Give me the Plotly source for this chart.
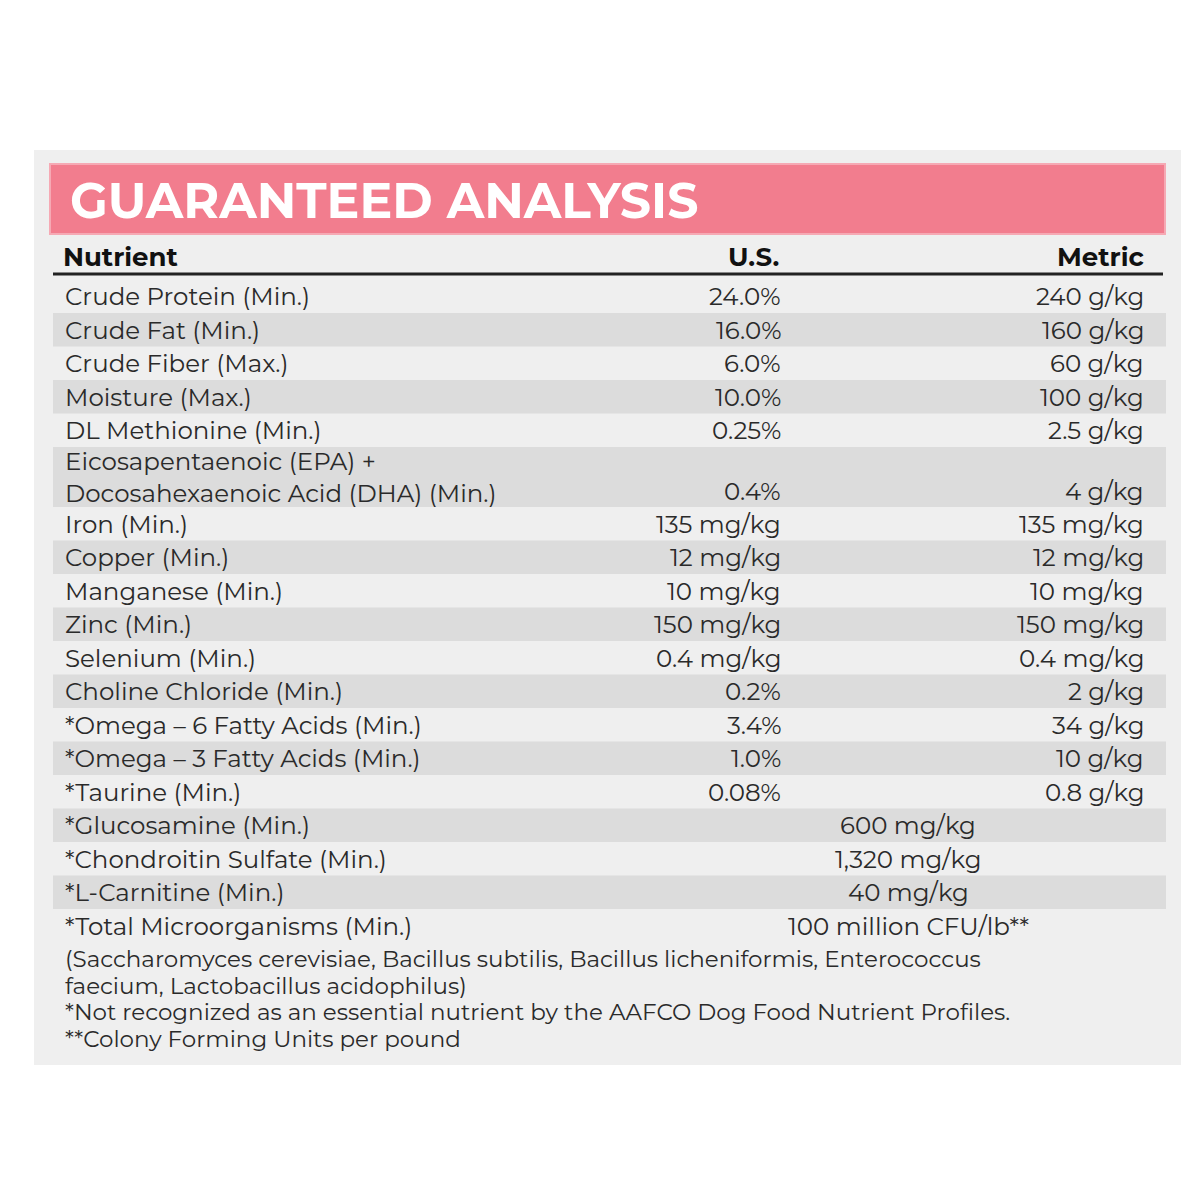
import plotly.graph_objects as go

nutrients = ["Crude Protein (Min.)", "Crude Fat (Min.)", "Crude Fiber (Max.)", "Moisture (Max.)",
             "DL Methionine (Min.)", "Eicosapentaenoic (EPA) +<br>Docosahexaenoic Acid (DHA) (Min.)",
             "Iron (Min.)", "Copper (Min.)", "Manganese (Min.)", "Zinc (Min.)", "Selenium (Min.)",
             "Choline Chloride (Min.)", "*Omega – 6 Fatty Acids (Min.)", "*Omega – 3 Fatty Acids (Min.)",
             "*Taurine (Min.)", "*Glucosamine (Min.)", "*Chondroitin Sulfate (Min.)", "*L-Carnitine (Min.)",
             "*Total Microorganisms (Min.)"]
us_values = ["24.0%", "16.0%", "6.0%", "10.0%", "0.25%", "0.4%", "135 mg/kg", "12 mg/kg", "10 mg/kg",
             "150 mg/kg", "0.4 mg/kg", "0.2%", "3.4%", "1.0%", "0.08%", None, None, None, None]
metric_values = ["240 g/kg", "160 g/kg", "60 g/kg", "100 g/kg", "2.5 g/kg", "4 g/kg", "135 mg/kg",
                 "12 mg/kg", "10 mg/kg", "150 mg/kg", "0.4 mg/kg", "2 g/kg", "34 g/kg", "10 g/kg",
                 "0.8 g/kg", None, None, None, None]
combined_values = [None] * 15 + ["600 mg/kg", "1,320 mg/kg", "40 mg/kg", "100 million CFU/lb**"]
footnotes = ["(Saccharomyces cerevisiae, Bacillus subtilis, Bacillus licheniformis, Enterococcus",
             "faecium, Lactobacillus acidophilus)",
             "*Not recognized as an essential nutrient by the AAFCO Dog Food Nutrient Profiles.",
             "**Colony Forming Units per pound"]

FONT = "Montserrat, Lato, Noto Sans, sans-serif"
TXT = "#2a2a2a"
fig = go.Figure()
shapes = [
    dict(type="rect", x0=26, x1=1173, y0=142, y1=1057, fillcolor="#efefef", line_width=0, layer="below"),
    dict(type="rect", x0=42, x1=1157, y0=156, y1=226, fillcolor="#f27d8e", line=dict(color="#f6a9b4", width=2), layer="below"),
    dict(type="line", x0=45, x1=1155, y0=266, y1=266, line=dict(color="#222", width=3)),
]
ann = [
    dict(x=60, y=192, text="<b>GUARANTEED ANALYSIS</b>", xanchor="left", font=dict(size=49, color="white")),
    dict(x=53, y=249, text="<b>Nutrient</b>", xanchor="left", font=dict(size=26, color="#111")),
    dict(x=773, y=249, text="<b>U.S.</b>", xanchor="right", font=dict(size=26, color="#111")),
    dict(x=1138, y=249, text="<b>Metric</b>", xanchor="right", font=dict(size=26, color="#111")),
]
y = 271.5
for i, n in enumerate(nutrients):
    h = 60 if "<br>" in n else 33.5
    if i % 2 == 1:
        shapes.append(dict(type="rect", x0=45, x1=1158, y0=y, y1=y + h, fillcolor="#dcdcdc", line_width=0, layer="below"))
    cy = y + h / 2
    ann.append(dict(x=55, y=cy, text=n, xanchor="left", align="left", font=dict(size=24.5, color=TXT)))
    vy = y + h - 16.5 if h > 40 else cy
    if us_values[i]:
        ann.append(dict(x=775, y=vy, text=us_values[i], xanchor="right", font=dict(size=24.5, color=TXT)))
        ann.append(dict(x=1138, y=vy, text=metric_values[i], xanchor="right", font=dict(size=24.5, color=TXT)))
    else:
        ann.append(dict(x=900, y=cy, text=combined_values[i], xanchor="center", font=dict(size=24.5, color=TXT)))
    y += h
for j, f in enumerate(footnotes):
    ann.append(dict(x=55, y=951 + j * 26.7, text=f, xanchor="left", font=dict(size=23, color=TXT)))
for a in ann:
    a.update(xref="x", yref="y", showarrow=False, yanchor="middle")
    a["font"]["family"] = FONT

fig.update_layout(width=1200, height=1200, margin=dict(l=0, r=0, t=0, b=0),
                  paper_bgcolor="white", plot_bgcolor="white", shapes=shapes, annotations=ann,
                  xaxis=dict(range=[0, 1200], visible=False), yaxis=dict(range=[1200, 0], visible=False),
                  showlegend=False)
fig.write_html("out.html")
